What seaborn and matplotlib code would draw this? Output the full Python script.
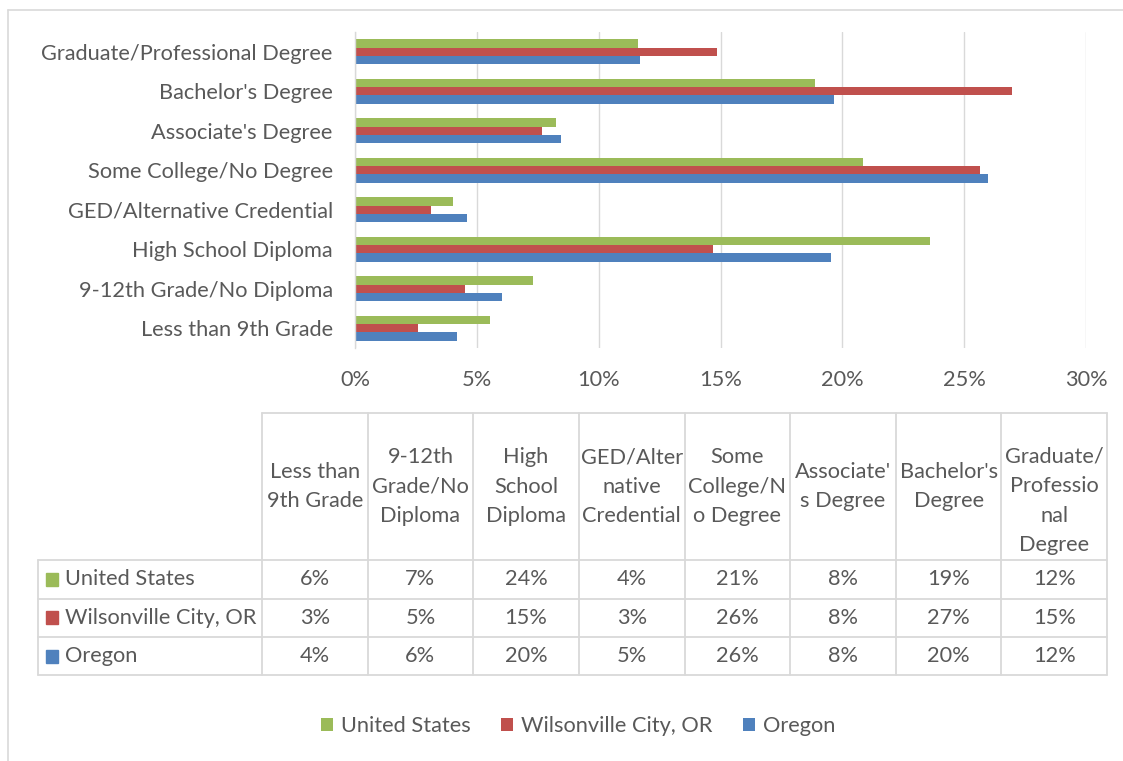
import numpy as np
import pandas as pd
import seaborn as sns
import matplotlib.pyplot as plt
from matplotlib.patches import Patch, Rectangle
from matplotlib.lines import Line2D

# ---------------- data ----------------
categories = ["Less than 9th Grade", "9-12th Grade/No Diploma", "High School Diploma",
              "GED/Alternative Credential", "Some College/No Degree", "Associate's Degree",
              "Bachelor's Degree", "Graduate/Professional Degree"]
header_labels = ["Less than\n9th Grade", "9-12th\nGrade/No\nDiploma", "High\nSchool\nDiploma",
                 "GED/Alter\nnative\nCredential", "Some\nCollege/N\no Degree", "Associate'\ns Degree",
                 "Bachelor's\nDegree", "Graduate/\nProfessio\nnal\nDegree"]
series = ["United States", "Wilsonville City, OR", "Oregon"]
us_vals = [5.56, 7.29, 23.60, 4.01, 20.86, 8.24, 18.86, 11.60]
wc_vals = [2.58, 4.52, 14.70, 3.10, 25.64, 7.67, 26.97, 14.85]
or_vals = [4.19, 6.03, 19.53, 4.59, 25.97, 8.45, 19.64, 11.69]
colors = ["#9BBB59", "#C0504D", "#4F81BD"]
xticks = [0, 5, 10, 15, 20, 25, 30]

values = [us_vals, wc_vals, or_vals]
df = pd.DataFrame({
    "category": categories * 3,
    "series": [s for s in series for _ in categories],
    "value": us_vals + wc_vals + or_vals,
})

W, H = 1123, 761
TXT = "#595959"
GRID = "#D9D9D9"
FS = 15.7

sns.set_theme(style="white")
plt.rcParams['font.family'] = ['Lato', 'DejaVu Sans']

fig = plt.figure(figsize=(W / 100, H / 100), dpi=100)


def fx(x):
    return x / W


def fy(y):
    return 1 - y / H


ax = fig.add_axes([fx(355), fy(348), (1086 - 355) / W, (348 - 32) / H])
sns.barplot(data=df, y="category", x="value", hue="series",
            order=categories[::-1], hue_order=series,
            palette=dict(zip(series, colors)), orient="h", width=0.63,
            saturation=1, ax=ax, legend=False, errorbar=None, linewidth=0)

ax.set_xlim(0, 30)
ax.set_ylim(7.5, -0.5)
ax.set_xticks(xticks)
ax.set_xticklabels([f"{t}%" for t in xticks])
ax.xaxis.grid(True, color=GRID, lw=1.0)
ax.yaxis.grid(False)
ax.set_axisbelow(True)
ax.set_xlabel("")
ax.set_ylabel("")
for s in ["top", "right", "bottom"]:
    ax.spines[s].set_visible(False)
ax.spines["left"].set_color(GRID)
ax.spines["left"].set_linewidth(1.0)
ax.tick_params(axis="x", length=0, pad=16, labelsize=FS, labelcolor=TXT)
ax.tick_params(axis="y", length=0, pad=16, labelsize=FS, labelcolor=TXT)

# ---------------- outer frame ----------------
fig.add_artist(Line2D([fx(8), fx(8)], [fy(10), fy(H + 5)], color=GRID, lw=1.2))
fig.add_artist(Line2D([fx(8), fx(W + 5)], [fy(10), fy(10)], color=GRID, lw=1.2))

# ---------------- data table ----------------
tl, c0, cr = 38, 262, 1107
colw = (cr - c0) / len(categories)
y_head, y_rows = 413, [560, 598.5, 637, 675]
lwt = 1.3
fig.add_artist(Line2D([fx(c0), fx(cr)], [fy(y_head), fy(y_head)], color=GRID, lw=lwt))
for y in y_rows:
    fig.add_artist(Line2D([fx(tl), fx(cr)], [fy(y), fy(y)], color=GRID, lw=lwt))
fig.add_artist(Line2D([fx(tl), fx(tl)], [fy(y_rows[0]), fy(y_rows[-1])], color=GRID, lw=lwt))
for i in range(len(categories) + 1):
    x = c0 + i * colw
    fig.add_artist(Line2D([fx(x), fx(x)], [fy(y_head), fy(y_rows[-1])], color=GRID, lw=lwt))

line_h = 29.5
cell_c = (y_head + y_rows[0]) / 2
for i, lab in enumerate(header_labels):
    lines = lab.split("\n")
    n = len(lines)
    center = cell_c if n <= 3 else y_rows[0] - n * line_h / 2
    xc = c0 + (i + 0.5) * colw
    for k, ln in enumerate(lines):
        yc = center + (k - (n - 1) / 2) * line_h
        fig.text(fx(xc), fy(yc), ln, ha="center", va="center", fontsize=FS, color=TXT)

for r, (name, vals, col) in enumerate(zip(series, values, colors)):
    yc = (y_rows[r] + y_rows[r + 1]) / 2
    fig.add_artist(Rectangle((fx(46), fy(yc + 6.5)), 12.5 / W, 13 / H, color=col,
                             transform=fig.transFigure))
    fig.text(fx(65), fy(yc), name, ha="left", va="center", fontsize=FS, color=TXT)
    for i, v in enumerate(vals):
        xc = c0 + (i + 0.5) * colw
        fig.text(fx(xc), fy(yc), f"{round(v):d}%", ha="center", va="center",
                 fontsize=FS, color=TXT)

# ---------------- legend ----------------
handles = [Patch(facecolor=c, edgecolor="none", label=s) for s, c in zip(series, colors)]
fig.legend(handles=handles, loc="center", bbox_to_anchor=(fx(578), fy(726)), ncol=3,
           frameon=False, fontsize=FS, labelcolor=TXT, handlelength=0.55, handleheight=0.55,
           handletextpad=0.37, columnspacing=1.4)

fig.savefig("out.png", dpi=100, facecolor="white")
